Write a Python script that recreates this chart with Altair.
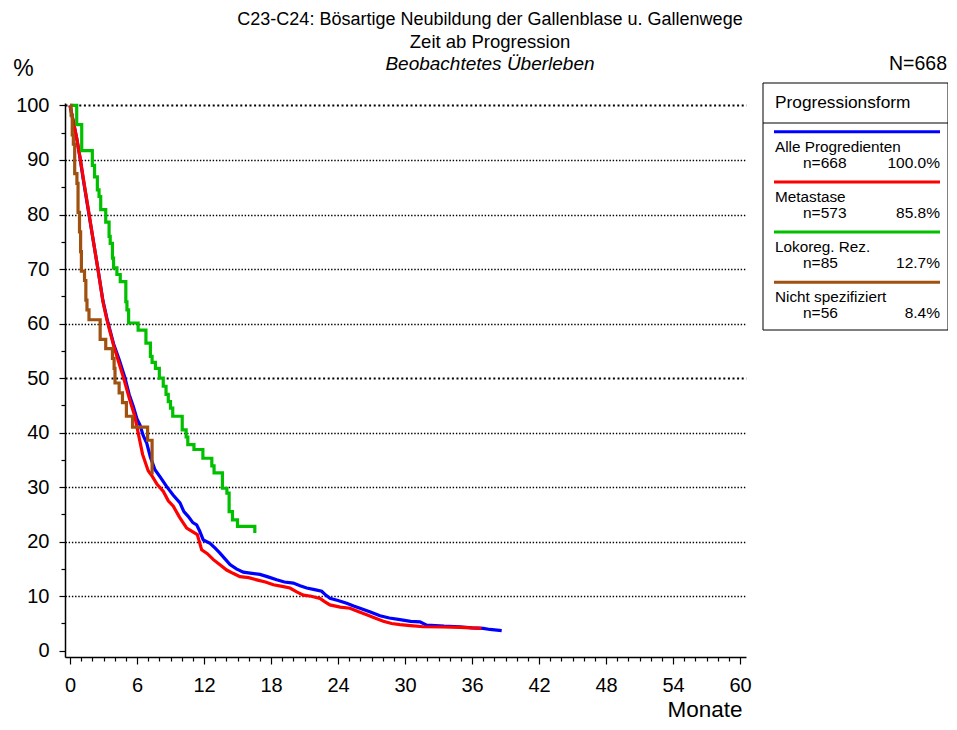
import altair as alt
import pandas as pd

# ---------------- data ----------------
groups = ["Alle Progredienten", "Metastase", "Lokoreg. Rez.", "Nicht spezifiziert"]
group_n = ["n=668", "n=573", "n=85", "n=56"]
group_pct = ["100.0%", "85.8%", "12.7%", "8.4%"]
group_colors = ["#0000FF", "#FF0000", "#00C000", "#A0500F"]

alle_t = [0, 0.3, 0.6, 0.9, 1.2, 1.7, 2.1, 2.5, 2.95, 3.3, 3.9, 4.4, 4.9, 5.3, 5.67, 6.0, 6.27,
          6.55, 6.87, 7.2, 7.61, 8.1, 8.66, 9.25, 9.85, 10.2, 10.6, 11.0, 11.34, 11.6, 11.94,
          12.54, 13.0, 13.43, 13.9, 14.33, 14.9, 15.52, 16.3, 17.01, 17.8, 18.51, 19.2, 20.0,
          20.6, 21.2, 21.9, 22.54, 22.9, 23.28, 24.0, 24.78, 25.4, 25.97, 26.9, 27.76, 28.6,
          29.55, 30.5, 31.34, 31.94, 33.5, 34.93, 36.0, 37.01, 37.6, 38.66]
alle_s = [100, 97, 94, 90.3, 86.3, 80, 75, 70, 64.2, 61, 56.3, 53.4, 50.2, 47, 44.8, 42.5, 41.4,
          39.5, 38.1, 35.5, 33.2, 31.8, 30.1, 28.5, 27.1, 25.5, 24.6, 23.5, 23.1, 22.0, 20.3,
          19.7, 18.8, 17.9, 16.8, 15.8, 15.0, 14.4, 14.2, 14.0, 13.5, 13.0, 12.6, 12.4,
          11.9, 11.5, 11.2, 10.9, 10.2, 9.6, 9.2, 8.7, 8.2, 7.8, 7.1, 6.4, 6.0,
          5.7, 5.4, 5.3, 4.7, 4.5, 4.4, 4.2, 4.1, 3.9, 3.7]

meta_t = [0, 0.3, 0.6, 0.9, 1.2, 1.7, 2.1, 2.5, 2.95, 3.3, 3.9, 4.35, 4.8, 5.35, 5.8, 6.05, 6.5,
          7.0, 7.3, 7.8, 8.36, 8.8, 9.25, 9.8, 10.45, 11.0, 11.4, 11.79, 12.3, 12.84, 13.4,
          14.03, 14.6, 15.22, 16.0, 16.72, 17.5, 18.21, 19.0, 19.7, 20.3, 20.9, 21.6, 22.39,
          22.8, 23.28, 24.2, 25.07, 25.8, 26.57, 27.3, 28.06, 28.8, 29.55, 30.5, 31.64, 33.3,
          34.93, 35.9, 36.85]
meta_s = [100, 97, 94, 90.5, 86.5, 80.2, 75, 70, 64, 60.7, 56, 53, 50, 46, 43, 40.5, 36,
          33, 32.2, 30.5, 29.2, 27.5, 26.5, 24.5, 22.5, 21.8, 21.3, 18.5, 17.8, 16.7, 15.8,
          14.8, 14.2, 13.6, 13.4, 13.0, 12.6, 12.1, 11.8, 11.5, 10.8, 10.2, 10.0, 9.6,
          9.0, 8.4, 8.0, 7.8, 7.2, 6.6, 6.0, 5.4, 5.0, 4.8, 4.6, 4.4, 4.35,
          4.3, 4.2, 4.1]

lok_t = [0, 0.6, 1.05, 2.0, 2.2, 2.45, 2.6, 2.75, 3.2, 3.5, 3.6, 3.8, 3.9, 4.2, 4.5, 5.0, 5.1,
         5.25, 6.1, 6.8, 7.2, 7.35, 7.65, 8.0, 8.35, 8.6, 8.8, 9.0, 9.2, 10.05, 10.4, 10.55,
         11.1, 11.9, 12.7, 12.9, 13.65, 14.05, 14.25, 14.55, 15.0, 16.55]
lok_s = [100, 96.5, 91.7, 89.0, 86.9, 84.5, 83.3, 80.9, 78.6, 76.0, 74.7, 72.0, 70.2, 69.0, 67.7,
         64.0, 62.5, 60.1, 58.8, 56.4, 54.0, 52.9, 51.8, 50.0, 48.5, 47.0, 45.7, 44.5, 43.0,
         40.5, 39.2, 37.8, 36.9, 35.3, 33.9, 32.6, 29.8, 28.9, 25.5, 24.0, 22.8, 21.6]

nicht_t = [0, 0.1, 0.2, 0.3, 0.42, 0.62, 0.72, 0.85, 0.95, 1.02, 1.3, 1.42, 1.52, 1.7, 2.7, 3.2,
           3.8, 3.95, 4.03, 4.4, 4.7, 5.05, 5.6, 6.95, 7.35]
nicht_s = [100, 98.2, 94.6, 92.9, 87.5, 85.7, 80.4, 76.8, 73.2, 69.6, 67.9, 64.3, 62.5, 60.7,
           57.1, 55.4, 53.6, 51.8, 49.1, 47.3, 45.5, 43.0, 41.0, 38.6, 32.3]

x_ticks = list(range(0, 61))
y_ticks = list(range(0, 101, 5))

title_1 = "C23-C24: Bösartige Neubildung der Gallenblase u. Gallenwege"
title_2 = "Zeit ab Progression"
title_3 = "Beobachtetes Überleben"
n_total = "N=668"
legend_title = "Progressionsform"

# ---------------- tables ----------------
series = [(groups[0], alle_t, alle_s), (groups[1], meta_t, meta_s),
          (groups[2], lok_t, lok_s), (groups[3], nicht_t, nicht_s)]
rows = []
for g, ts, ss in series:
    for t, s in zip(ts, ss):
        rows.append({"grp": g, "t": t, "s": s})
curves = pd.DataFrame(rows)

leg = pd.DataFrame({"grp": groups, "n": group_n, "pct": group_pct, "i": list(range(len(groups)))})

FONT = "Liberation Sans"
color_scale = alt.Scale(domain=groups, range=group_colors)

x_enc = alt.X(
    "t:Q",
    scale=alt.Scale(domain=[-0.448, 60.537], nice=False, zero=False),
    axis=alt.Axis(
        values=x_ticks,
        labelExpr="datum.value % 6 === 0 ? datum.label : ''",
        tickSize={"condition": {"test": "datum.value % 6 === 0", "value": 7}, "value": 4},
        tickColor="black", tickWidth=1.2,
        domainColor="black", domainWidth=1.5,
        labelFont=FONT, labelFontSize=20, labelColor="black", labelPadding=11,
        labelFlush=False, labelOverlap=False,
        grid=False,
        title="Monate", titleFont=FONT, titleFontSize=22.5, titleFontWeight="normal",
        titleColor="black", titleX=677, titleY=59.5, titleAlign="right",
        titleBaseline="alphabetic", titleAnchor="end",
    ),
)

y_enc = alt.Y(
    "s:Q",
    scale=alt.Scale(domain=[-1.15, 100.45], nice=False, zero=False),
    axis=alt.Axis(
        values=y_ticks,
        labelExpr="datum.value % 10 === 0 ? datum.label : ''",
        tickSize={"condition": {"test": "datum.value % 10 === 0", "value": 6}, "value": 4},
        tickColor="black", tickWidth=1.2,
        domainColor="black", domainWidth=1.5,
        labelFont=FONT, labelFontSize=20, labelColor="black", labelPadding=10,
        labelOverlap=False, labelFlush=False,
        grid=True, gridColor="black",
        gridOpacity={"condition": {"test": "datum.value % 10 === 0 && datum.value > 0", "value": 1}, "value": 0},
        gridWidth={"condition": {"test": "datum.value === 50 || datum.value === 100", "value": 2}, "value": 1.3},
        gridDash={"condition": {"test": "datum.value === 50 || datum.value === 100", "value": [2, 2.6]}, "value": [1.4, 1.8]},
        title="%", titleFont=FONT, titleFontSize=23, titleFontWeight="normal", titleColor="black",
        titleAngle=0, titleX=-42, titleY=-28, titleAlign="center", titleBaseline="alphabetic",
    ),
)

layers = []
for g, interp in [(groups[0], "linear"), (groups[1], "linear"),
                  (groups[2], "step-after"), (groups[3], "step-after")]:
    layers.append(
        alt.Chart(curves)
        .transform_filter(alt.datum.grp == g)
        .mark_line(strokeWidth=3.2, interpolate=interp)
        .encode(x=x_enc, y=y_enc,
                color=alt.Color("grp:N", scale=color_scale, legend=None))
    )

def txt(text, x, y, size, align="center", style="normal"):
    return alt.Chart(pd.DataFrame({"txt": [text]})).mark_text(
        font=FONT, fontSize=size, align=align, baseline="alphabetic",
        fontStyle=style, color="black"
    ).encode(text="txt:N", x=alt.value(x), y=alt.value(y))

layers += [
    txt(title_1, 425, -78, 18),
    txt(title_2, 425, -55.5, 18.5),
    txt(title_3, 425, -33, 19, style="italic"),
    txt(n_total, 882, -33, 19.5, align="right"),
    txt(legend_title, 710, 5, 17.3, align="left"),
]

one = pd.DataFrame({"k": [0]})
layers.append(
    alt.Chart(one).mark_rect(fillOpacity=0, stroke="black", strokeWidth=1)
    .encode(x=alt.value(698), x2=alt.value(883), y=alt.value(-20), y2=alt.value(227))
)
layers.append(
    alt.Chart(one).mark_rule(color="black", strokeWidth=1)
    .encode(x=alt.value(698), x2=alt.value(883), y=alt.value(20))
)

leg_base = alt.Chart(leg).transform_calculate(
    ly="28.7 + 50.2 * datum.i",
    lname="48.5 + 50.2 * datum.i",
    ln="64.5 + 50.2 * datum.i",
)
layers.append(
    leg_base.mark_rule(strokeWidth=3).encode(
        x=alt.value(709), x2=alt.value(875),
        y=alt.Y("ly:Q", scale=None, axis=None),
        color=alt.Color("grp:N", scale=color_scale, legend=None),
    )
)
layers.append(
    leg_base.mark_text(font=FONT, fontSize=15.3, align="left", baseline="alphabetic", color="black")
    .encode(x=alt.value(710), y=alt.Y("lname:Q", scale=None, axis=None), text="grp:N")
)
layers.append(
    leg_base.mark_text(font=FONT, fontSize=15.5, align="left", baseline="alphabetic", color="black")
    .encode(x=alt.value(738), y=alt.Y("ln:Q", scale=None, axis=None), text="n:N")
)
layers.append(
    leg_base.mark_text(font=FONT, fontSize=15.5, align="right", baseline="alphabetic", color="black")
    .encode(x=alt.value(875), y=alt.Y("ln:Q", scale=None, axis=None), text="pct:N")
)

chart = (
    alt.layer(*layers)
    .properties(
        width=681, height=554,
        autosize=alt.AutoSizeParams(type="none"),
        padding={"left": 57, "top": 95, "right": 202, "bottom": 65},
        background="white",
    )
    .configure_view(stroke=None)
)

chart.save("out.html", embed_options={"renderer": "svg", "actions": False})
